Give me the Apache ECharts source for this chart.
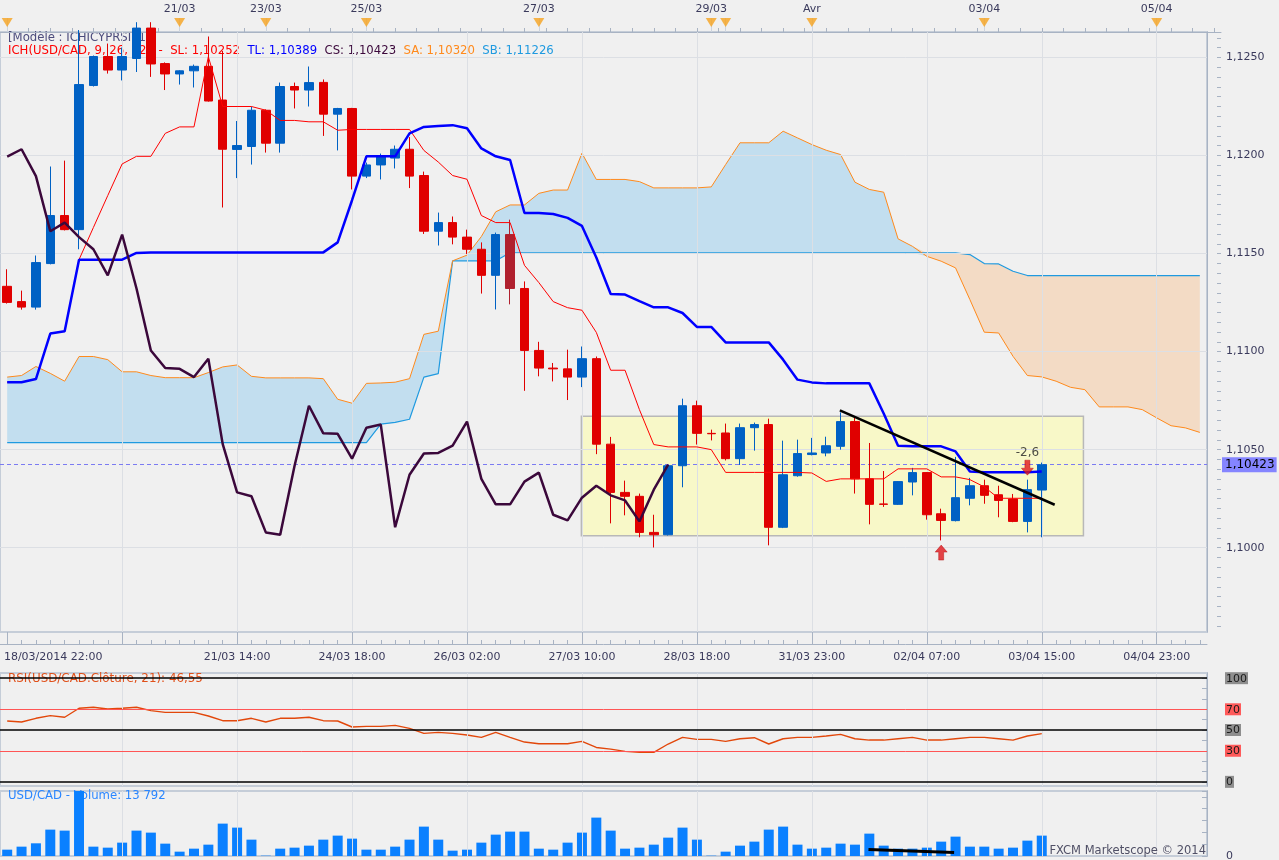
<!DOCTYPE html>
<html><head><meta charset="utf-8">
<script src="https://cdn.jsdelivr.net/npm/echarts@6/dist/echarts.min.js"></script>
<style>html,body{margin:0;padding:0;background:#f0f0f0;}#c{width:1279px;height:860px;}</style>
</head><body><div id="c"></div><script>
// ---- candles (4h USD/CAD) ----
const opens  = [1.11333,1.11255,1.11227,1.11449,1.11694,1.11622,1.12357,1.12505,1.12436,1.12495,
 1.12650,1.12469,1.12416,1.12432,1.12455,1.12283,1.12031,1.12046,1.12231,1.12063,
 1.12352,1.12334,1.12373,1.12211,1.12240,1.11895,1.11952,1.11987,1.12032,1.11898,
 1.11614,1.11658,1.11584,1.11522,1.11389,1.11597,1.11322,1.11006,1.10916,1.10912,
 1.10870,1.10964,1.10528,1.10282,1.10262,1.10078,1.10066,1.10418,1.10724,1.10583,
 1.10585,1.10454,1.10612,1.10628,1.10104,1.10367,1.10475,1.10483,1.10517,1.10643,
 1.10351,1.10223,1.10221,1.10335,1.10383,1.10173,1.10138,1.10252,1.10316,1.10270,
 1.10248,1.10134,1.10294];
const closes = [1.11251,1.11227,1.11454,1.11694,1.11622,1.12362,1.12505,1.12436,1.12505,1.12650,
 1.12467,1.12416,1.12432,1.12455,1.12278,1.12032,1.12051,1.12231,1.12063,1.12352,
 1.12334,1.12372,1.12211,1.12240,1.11895,1.11952,1.11995,1.12032,1.11895,1.11614,
 1.11658,1.11584,1.11522,1.11389,1.11597,1.11322,1.11006,1.10916,1.10912,1.10870,
 1.10964,1.10528,1.10282,1.10262,1.10078,1.10066,1.10418,1.10724,1.10583,1.10581,
 1.10454,1.10612,1.10628,1.10104,1.10372,1.10480,1.10483,1.10520,1.10643,1.10351,
 1.10221,1.10221,1.10337,1.10383,1.10168,1.10139,1.10255,1.10316,1.10267,1.10241,
 1.10134,1.10296,1.10423];
const lows   = [1.11245,1.11214,1.11214,1.11445,1.11618,1.11522,1.12352,1.12418,1.12383,1.12426,
 1.12401,1.12334,1.12362,1.12347,1.12275,1.11735,1.11885,1.11954,1.12015,1.12015,
 1.12240,1.12250,1.12100,1.12026,1.11827,1.11885,1.11878,1.11934,1.11834,1.11600,
 1.11541,1.11547,1.11498,1.11296,1.11215,1.11241,1.10800,1.10874,1.10848,1.10753,
 1.10819,1.10477,1.10124,1.10165,1.10053,1.10001,1.10062,1.10308,1.10526,1.10547,
 1.10445,1.10422,1.10495,1.10012,1.10100,1.10362,1.10471,1.10466,1.10500,1.10276,
 1.10119,1.10208,1.10218,1.10267,1.10143,1.10037,1.10134,1.10216,1.10224,1.10155,
 1.10130,1.10078,1.10053];
const highs  = [1.11420,1.11311,1.11490,1.11944,1.11974,1.12640,1.12510,1.12571,1.12551,1.12680,
 1.12680,1.12475,1.12435,1.12464,1.12607,1.12533,1.12176,1.12250,1.12235,1.12372,
 1.12372,1.12454,1.12388,1.12243,1.12243,1.11964,1.12010,1.12051,1.12094,1.11918,
 1.11709,1.11689,1.11622,1.11557,1.11607,1.11673,1.11358,1.11050,1.10942,1.11010,
 1.11026,1.10975,1.10565,1.10342,1.10276,1.10168,1.10418,1.10760,1.10750,1.10602,
 1.10633,1.10633,1.10638,1.10658,1.10546,1.10551,1.10560,1.10566,1.10690,1.10667,
 1.10534,1.10391,1.10340,1.10407,1.10386,1.10199,1.10463,1.10356,1.10347,1.10316,
 1.10274,1.10347,1.10434];
const highlightIdx = [35];

// ---- Ichimoku lines ----
const tenkan = [1.10844,1.10844,1.10860,1.11092,1.11104,1.11469,1.11469,1.11469,1.11469,1.11503,
 1.11506,1.11506,1.11506,1.11506,1.11506,1.11506,1.11506,1.11506,1.11506,1.11506,
 1.11506,1.11506,1.11506,1.11557,1.11772,1.11996,1.11996,1.11996,1.12113,1.12146,
 1.12151,1.12155,1.12139,1.12036,1.11996,1.11977,1.11707,1.11707,1.11702,1.11682,
 1.11641,1.11480,1.11294,1.11291,1.11257,1.11226,1.11226,1.11197,1.11126,1.11126,
 1.11047,1.11047,1.11047,1.11047,1.10959,1.10857,1.10843,1.10838,1.10838,1.10838,
 1.10838,1.10684,1.10520,1.10517,1.10517,1.10517,1.10491,1.10389,1.10385,1.10385,
 1.10385,1.10385,1.10389];
const kijun = [1.10844,1.10844,1.10860,1.11092,1.11104,1.11469,1.11633,1.11796,1.11957,1.11996,
 1.11996,1.12113,1.12146,1.12146,1.12504,1.12250,1.12250,1.12250,1.12231,1.12179,
 1.12179,1.12172,1.12172,1.12129,1.12133,1.12133,1.12133,1.12133,1.12133,1.12026,
 1.11967,1.11898,1.11879,1.11694,1.11658,1.11658,1.11440,1.11352,1.11255,1.11224,
 1.11211,1.11098,1.10905,1.10905,1.10704,1.10526,1.10514,1.10514,1.10514,1.10500,
 1.10384,1.10384,1.10384,1.10384,1.10384,1.10384,1.10381,1.10338,1.10351,1.10351,
 1.10351,1.10351,1.10402,1.10402,1.10402,1.10361,1.10361,1.10347,1.10310,1.10252,
 1.10252,1.10252,1.10252];
const senkouA = [1.10870,1.10878,1.10924,1.10889,1.10849,1.10975,1.10975,1.10959,1.10897,1.10897,
 1.10878,1.10867,1.10867,1.10867,1.10893,1.10922,1.10932,1.10874,1.10866,1.10866,
 1.10866,1.10866,1.10862,1.10757,1.10737,1.10838,1.10840,1.10844,1.10862,1.11088,
 1.11104,1.11463,1.11492,1.11587,1.11713,1.11748,1.11748,1.11807,1.11824,1.11824,
 1.12012,1.11878,1.11878,1.11878,1.11867,1.11835,1.11835,1.11835,1.11835,1.11840,
 1.11954,1.12065,1.12065,1.12065,1.12124,1.12090,1.12056,1.12027,1.12005,1.11864,
 1.11827,1.11813,1.11575,1.11537,1.11486,1.11461,1.11427,1.11265,1.11099,1.11095,
 1.10976,1.10878,1.10871,1.10849,1.10818,1.10806,1.10718,1.10718,1.10718,1.10704,
 1.10662,1.10622,1.10611,1.10588];
const senkouB = [1.10536,1.10536,1.10536,1.10536,1.10536,1.10536,1.10536,1.10536,1.10536,1.10536,
 1.10536,1.10536,1.10536,1.10536,1.10536,1.10536,1.10536,1.10536,1.10536,1.10536,
 1.10536,1.10536,1.10536,1.10536,1.10536,1.10536,1.10630,1.10639,1.10655,1.10870,
 1.10888,1.11463,1.11463,1.11463,1.11463,1.11504,1.11504,1.11504,1.11504,1.11504,
 1.11504,1.11504,1.11504,1.11504,1.11504,1.11504,1.11504,1.11504,1.11504,1.11504,
 1.11504,1.11504,1.11504,1.11504,1.11504,1.11504,1.11504,1.11504,1.11504,1.11504,
 1.11504,1.11504,1.11504,1.11504,1.11504,1.11504,1.11504,1.11495,1.11449,1.11447,
 1.11410,1.11388,1.11388,1.11388,1.11388,1.11388,1.11388,1.11388,1.11388,1.11388,
 1.11388,1.11388,1.11388,1.11388];
const chikouShift = 26;

// ---- RSI(21) and volume ----
const rsi = [58.7,57.7,61.3,63.9,62.3,71.0,72.0,70.3,71.0,72.0,
 68.7,67.0,67.0,67.0,63.5,59.0,59.0,61.3,57.7,61.3,
 61.3,62.3,59.0,58.7,52.9,53.5,53.5,54.5,51.6,46.8,
 47.7,46.8,45.2,42.9,47.7,42.9,38.4,36.8,36.8,36.8,
 39.0,33.2,31.6,29.4,28.4,28.4,36.5,42.9,41.0,41.0,
 39.0,41.6,42.6,36.5,41.6,42.9,42.9,44.2,45.8,41.6,
 40.3,40.3,41.6,42.9,40.3,40.3,41.6,42.9,42.9,41.6,
 40.3,44.2,46.55];
const volume = [4290,6330,8590,17850,17180,46000,6330,5650,9040,17180,
 15820,8360,2940,4970,7680,21920,19210,11070,230,4970,
 5650,7010,11070,13790,11750,4290,4290,6330,11070,19890,
 11070,3620,4290,9040,14460,16500,16500,4970,4290,9040,
 15820,25990,17180,4970,5650,7680,12430,19210,11070,230,
 2940,7010,9720,17850,19890,7680,4970,5650,8360,7680,
 15140,7010,4970,4970,5650,9720,13110,6330,6330,4970,
 5650,10400,13792];

// ---- annotations ----
const boxX = [39.96, 74.9], boxY = [1.10670, 1.10061];
const trendX = [57.95, 72.9], trendY = [1.10700, 1.10219];
const arrowIdx = [65, 71], arrowPrice = [1.09975, 1.10408], arrowDir = ['up', 'down'], arrowText = ['', '-2,6'];
const volTrendX = [59.94, 65.9], volTrendY = [4475, 2440];
const rsiLevels = [100, 70, 50, 30, 0];

// ---- tick labels ----
const nCats = 84;
const bottomTickIdx = [0, 16, 24, 32, 40, 48, 56, 64, 72, 80];
const bottomTickText = ['18/03/2014 22:00','21/03 14:00','24/03 18:00','26/03 02:00','27/03 10:00',
  '28/03 18:00','31/03 23:00','02/04 07:00','03/04 15:00','04/04 23:00'];
const gridIdx = [8, 16, 24, 32, 40, 48, 56, 64, 72, 80];
const topTickIdx = [12, 18, 25, 37, 49, 56, 68, 80];
const topTickText = ['21/03','23/03','25/03','27/03','29/03','Avr','03/04','05/04'];
const eventIdx = [0, 12, 18, 25, 37, 49, 50, 56, 68, 80];
const priceTicks = [1.1000, 1.1050, 1.1100, 1.1150, 1.1200, 1.1250];
const rsiTicks = [0,10,20,30,40,50,60,70,80,90,100];
const rsiLabels = [0, 30, 50, 70, 100];

// ---- derived ----
const cats = Array.from({length: nCats}, (_, i) => String(i));
const candleData = opens.map((o, i) => {
  const item = {value: [o, closes[i], lows[i], highs[i]]};
  if (highlightIdx.includes(i)) item.itemStyle = {color0: '#b0202e', borderColor0: '#b0202e'};
  return item;
});
const chikou = closes.slice(chikouShift);
const lastClose = closes[closes.length - 1];
const cloudLow = senkouA.map((a, i) => Math.min(a, senkouB[i]));
const cloudBlue = senkouA.map((a, i) => Math.max(a - senkouB[i], 0));
const cloudPeach = senkouA.map((a, i) => Math.max(senkouB[i] - a, 0));
const bottomMap = {}; bottomTickIdx.forEach((v, k) => bottomMap[v] = bottomTickText[k]);
const topMap = {}; topTickIdx.forEach((v, k) => topMap[v] = topTickText[k]);
const topMinor = []; for (let k = 0; k <= 56; k++) topMinor.push(k * 1.5);
const priceMinor = []; for (let k = 0; k <= 60; k++) priceMinor.push(Math.round((1.0960 + k * 0.0005) * 10000) / 10000);
const fmtPrice = (v, d) => v.toFixed(d).replace('.', ',');

const FONT = 'DejaVu Sans';
const LF = '11.7px "DejaVu Sans"';
const AX = '#a8b3c3', GRIDC = '#dcdfe4', BORDER = '#c5cdd8', TXT = '#3a3a5c';
const PLOT_W = 1207, BAND = PLOT_W / nCats;

const chart = echarts.init(document.getElementById('c'));
const vLines = gridIdx.map(i => ({xAxis: i}));
const hiddenVal = (g) => ({type: 'value', gridIndex: g, min: -0.5, max: nCats - 0.5, show: false});
const hiddenCat = (g) => ({type: 'category', gridIndex: g, data: cats, boundaryGap: true, show: false});
const sideX = (g) => ({type: 'value', gridIndex: g, min: 0, max: 1, show: false});
const ML = {silent: true, precision: 10, symbol: ['none', 'none'], label: {show: false}, animation: false};

chart.setOption({
  animation: false,
  backgroundColor: '#f0f0f0',
  textStyle: {fontFamily: FONT},
  grid: [
    {left: 0, top: 32, width: PLOT_W, height: 600, show: true, borderColor: BORDER, borderWidth: 2, outerBoundsMode: 'none'},
    {left: 0, top: 18, width: 1221, height: 14, show: false, outerBoundsMode: 'none'},
    {left: 0, top: 673, width: PLOT_W, height: 113, show: true, borderColor: BORDER, borderWidth: 2, outerBoundsMode: 'none'},
    {left: 0, top: 791, width: PLOT_W, height: 65, show: true, borderColor: BORDER, borderWidth: 2, outerBoundsMode: 'none'},
    {left: PLOT_W, top: 32, width: 14, height: 600, show: false, outerBoundsMode: 'none'},
    {left: PLOT_W, top: 673, width: 14, height: 113, show: false, outerBoundsMode: 'none'},
    {left: PLOT_W, top: 791, width: 14, height: 65, show: false, outerBoundsMode: 'none'}
  ],
  xAxis: [
    {type: 'category', gridIndex: 0, data: cats, boundaryGap: true, position: 'bottom', offset: 12,
      axisLine: {show: true, lineStyle: {color: AX}},
      axisTick: {show: true, alignWithLabel: true, inside: true, length: 4, interval: 0, lineStyle: {color: AX}},
      axisLabel: {show: true, interval: (idx) => bottomTickIdx.includes(idx), margin: 8, color: TXT, fontSize: 11,
        formatter: (v, idx) => idx === 0 ? '{f|' + bottomMap[0] + '}' : (bottomMap[idx] || ''),
        rich: {f: {padding: [0, 0, 0, 92], fontSize: 11, color: TXT}}},
      splitLine: {show: false}},
    {type: 'category', gridIndex: 0, data: cats, boundaryGap: true, position: 'bottom', offset: 12,
      axisLine: {show: false},
      axisTick: {show: true, alignWithLabel: true, inside: true, length: 12, interval: (idx) => idx % 8 === 0, lineStyle: {color: AX}},
      axisLabel: {show: false}, splitLine: {show: false}},
    hiddenVal(0),
    {type: 'value', gridIndex: 1, min: -0.5, max: -0.5 + 1221 / BAND, position: 'top',
      axisLine: {show: true, lineStyle: {color: AX}},
      axisTick: {show: true, customValues: topMinor, length: 4, lineStyle: {color: AX}},
      axisLabel: {show: true, customValues: topTickIdx, formatter: (v) => topMap[v] || '', margin: 3, color: TXT, fontSize: 11},
      splitLine: {show: false}},
    hiddenCat(2),
    hiddenVal(2),
    hiddenCat(3),
    hiddenVal(3),
    sideX(4), sideX(5), sideX(6)
  ],
  yAxis: [
    {type: 'value', gridIndex: 0, min: 1.0957, max: 1.1263, show: false},
    {type: 'value', gridIndex: 1, min: 0, max: 1, show: false},
    {type: 'value', gridIndex: 2, min: -4, max: 105, show: false},
    {type: 'value', gridIndex: 3, min: 0, max: 44000, show: false},
    // price axis strip
    {type: 'value', gridIndex: 4, min: 1.0957, max: 1.1263, position: 'right',
      axisLine: {show: true, lineStyle: {color: AX}},
      axisTick: {show: true, inside: true, length: 14, customValues: priceTicks, lineStyle: {color: AX}},
      axisLabel: {show: true, customValues: priceTicks, formatter: (v) => fmtPrice(v, 4), color: TXT, fontSize: 11, margin: 5},
      splitLine: {show: false}},
    {type: 'value', gridIndex: 4, min: 1.0957, max: 1.1263, position: 'right',
      axisLine: {show: false},
      axisTick: {show: true, inside: true, length: 4, customValues: priceMinor, lineStyle: {color: AX}},
      axisLabel: {show: false}, splitLine: {show: false}},
    // RSI axis strip
    {type: 'value', gridIndex: 5, min: -4, max: 105, position: 'right',
      axisLine: {show: true, lineStyle: {color: AX}},
      axisTick: {show: true, inside: true, length: 5, customValues: rsiTicks, lineStyle: {color: AX}},
      axisLabel: {show: true, customValues: rsiLabels, margin: 4, fontSize: 11,
        formatter: (v) => (v === 30 || v === 70) ? '{r|' + v + '}' : '{g|' + v + '}',
        rich: {r: {backgroundColor: '#ff5a5a', color: '#1a1a1a', padding: [1, 1, 0, 1], fontSize: 11},
               g: {backgroundColor: '#8e8e8e', color: '#1a1a1a', padding: [1, 1, 0, 1], fontSize: 11}}},
      splitLine: {show: false}},
    // volume axis strip
    {type: 'value', gridIndex: 6, min: 0, max: 44000, interval: 8000, position: 'right',
      axisLine: {show: true, lineStyle: {color: AX}},
      axisTick: {show: true, inside: true, length: 5, lineStyle: {color: AX}},
      axisLabel: {show: true, formatter: (v) => v === 0 ? '0' : '', color: TXT, fontSize: 11, margin: 5},
      splitLine: {show: false}}
  ],
  series: [
    // main grid lines
    {type: 'line', xAxisIndex: 2, yAxisIndex: 0, data: [], z: 1, silent: true,
      markLine: Object.assign({}, ML, {lineStyle: {color: GRIDC, width: 1, type: 'solid'},
        data: vLines.concat(priceTicks.map(p => ({yAxis: p})))})},
    // cloud
    {type: 'line', xAxisIndex: 0, yAxisIndex: 0, data: cloudLow, stack: 'cloud', symbol: 'none', silent: true,
      lineStyle: {opacity: 0, width: 0}, z: 2},
    {type: 'line', xAxisIndex: 0, yAxisIndex: 0, data: cloudBlue, stack: 'cloud', symbol: 'none', silent: true,
      lineStyle: {opacity: 0, width: 0}, areaStyle: {color: '#bcdcee', opacity: 0.9}, z: 2},
    {type: 'line', xAxisIndex: 0, yAxisIndex: 0, data: cloudPeach, stack: 'cloud', symbol: 'none', silent: true,
      lineStyle: {opacity: 0, width: 0}, areaStyle: {color: '#f3d9c1', opacity: 0.92}, z: 2},
    {type: 'line', name: 'SB', xAxisIndex: 0, yAxisIndex: 0, data: senkouB, symbol: 'none', silent: true,
      lineStyle: {color: '#1f9ae0', width: 1.2}, z: 3},
    {type: 'line', name: 'SA', xAxisIndex: 0, yAxisIndex: 0, data: senkouA, symbol: 'none', silent: true,
      lineStyle: {color: '#ff8a1c', width: 1}, z: 3},
    // yellow box
    {type: 'line', xAxisIndex: 2, yAxisIndex: 0, data: [], z: 3, silent: true,
      markArea: {silent: true, itemStyle: {color: 'rgba(248,248,196,0.92)', borderColor: '#b8b8b8', borderWidth: 1.5},
        data: [[{coord: [boxX[0], boxY[0]]}, {coord: [boxX[1], boxY[1]]}]]}},
    // current price line
    {type: 'line', xAxisIndex: 2, yAxisIndex: 0, data: [], z: 4, silent: true,
      markLine: Object.assign({}, ML, {
        lineStyle: {color: '#7b7bf2', width: 1, type: [4, 3]},
        label: {show: true, position: 'end', distance: 15, formatter: fmtPrice(lastClose, 5),
          backgroundColor: '#8585ff', color: '#000', padding: [2, 2, 1, 3], fontSize: 12, fontFamily: FONT},
        data: [{yAxis: lastClose}]})},
    // candles
    {type: 'candlestick', xAxisIndex: 0, yAxisIndex: 0, data: candleData, barWidth: 9, z: 5, silent: true,
      itemStyle: {color: '#0061c4', color0: '#e00000', borderColor: '#0061c4', borderColor0: '#e00000', borderWidth: 1}},
    {type: 'line', name: 'Kijun', xAxisIndex: 0, yAxisIndex: 0, data: kijun, symbol: 'none', silent: true,
      lineStyle: {color: '#ff0000', width: 1}, z: 6},
    {type: 'line', name: 'Tenkan', xAxisIndex: 0, yAxisIndex: 0, data: tenkan, symbol: 'none', silent: true,
      lineStyle: {color: '#0000ff', width: 2.5}, z: 7},
    {type: 'line', name: 'Chikou', xAxisIndex: 0, yAxisIndex: 0, data: chikou, symbol: 'none', silent: true,
      lineStyle: {color: '#3b083b', width: 2.5}, z: 7},
    {type: 'line', xAxisIndex: 2, yAxisIndex: 0, data: trendX.map((x, k) => [x, trendY[k]]), symbol: 'none', silent: true,
      lineStyle: {color: '#000', width: 2.5}, z: 8},
    {type: 'scatter', xAxisIndex: 2, yAxisIndex: 0, z: 9, silent: true,
      symbol: 'path://M6,0 L12,7 L8.5,7 L8.5,15 L3.5,15 L3.5,7 L0,7 Z', symbolSize: [12, 15],
      itemStyle: {color: '#e0161b', borderColor: '#b00000', borderWidth: 0.5},
      data: arrowIdx.map((x, k) => ({value: [x, arrowPrice[k]], symbolRotate: arrowDir[k] === 'up' ? 0 : 180,
        label: {show: arrowText[k] !== '', formatter: arrowText[k], position: 'top', distance: 1, color: '#222', fontSize: 12, fontFamily: FONT}}))},
    // top event strip
    {type: 'scatter', xAxisIndex: 3, yAxisIndex: 1, z: 5, silent: true,
      symbol: 'path://M0,0 L10,0 L5,9 Z', symbolSize: [11, 9], itemStyle: {color: '#f6a21e'},
      data: eventIdx.map(i => [i, 0.68]),
      markLine: Object.assign({}, ML, {lineStyle: {color: '#cdd4de', width: 1, type: 'solid'},
        data: eventIdx.map(i => ({xAxis: i}))})},
    // RSI
    {type: 'line', xAxisIndex: 5, yAxisIndex: 2, data: [], z: 1, silent: true,
      markLine: Object.assign({}, ML, {lineStyle: {color: GRIDC, width: 1, type: 'solid'}, data: vLines})},
    {type: 'line', xAxisIndex: 5, yAxisIndex: 2, data: [], z: 2, silent: true,
      markLine: Object.assign({}, ML, {
        data: rsiLevels.map(v => ({yAxis: v, lineStyle: {color: (v === 30 || v === 70) ? '#ff5555' : '#000', width: (v === 30 || v === 70) ? 1 : 1.5, type: 'solid'}}))})},
    {type: 'line', xAxisIndex: 4, yAxisIndex: 2, data: rsi, symbol: 'none', silent: true, z: 4,
      lineStyle: {color: '#e2470a', width: 1.4}},
    // Volume
    {type: 'line', xAxisIndex: 7, yAxisIndex: 3, data: [], z: 1, silent: true,
      markLine: Object.assign({}, ML, {lineStyle: {color: GRIDC, width: 1, type: 'solid'}, data: vLines})},
    {type: 'bar', xAxisIndex: 6, yAxisIndex: 3, data: volume, barWidth: 10, silent: true, z: 3,
      itemStyle: {color: '#0a80ff'}},
    {type: 'line', xAxisIndex: 7, yAxisIndex: 3, data: volTrendX.map((x, k) => [x, volTrendY[k]]), symbol: 'none', silent: true,
      lineStyle: {color: '#000', width: 3}, z: 5}
  ],
  graphic: [
    {type: 'text', left: 8, top: 32, z: 0, silent: true,
      style: {text: '[Modèle : ICHICYPRSI21]', fill: '#4c4c7c', font: LF}},
    {type: 'text', left: 8, top: 45, z: 0, silent: true,
      style: {text: '{a|ICH(USD/CAD, 9, 26, 52)  -  SL: ' + fmtPrice(kijun[72], 5) + '}  {b|TL: ' + fmtPrice(tenkan[72], 5) + '}  {c|CS: ' + fmtPrice(lastClose, 5) + '}  {d|SA: 1,10320}  {e|SB: 1,11226}',
        font: LF,
        rich: {a: {fill: '#ff0000', font: LF}, b: {fill: '#0000ff', font: LF},
               c: {fill: '#3b083b', font: LF}, d: {fill: '#ff8a1c', font: LF},
               e: {fill: '#1f9ae0', font: LF}}}},
    {type: 'text', left: 8, top: 673, z: 0, silent: true,
      style: {text: 'RSI(USD/CAD.Clôture, 21): ' + fmtPrice(rsi[72], 2), fill: '#e0501a', font: '11.9px "DejaVu Sans"'}},
    {type: 'text', left: 8, top: 790, z: 0, silent: true,
      style: {text: 'USD/CAD - Volume: 13 792', fill: '#2a86ff', font: LF}},
    {type: 'text', right: 73, top: 845, z: 10, silent: true,
      style: {text: 'FXCM Marketscope © 2014', fill: '#505066', font: '11.5px "DejaVu Sans"'}}
  ]
});
</script></body></html>
